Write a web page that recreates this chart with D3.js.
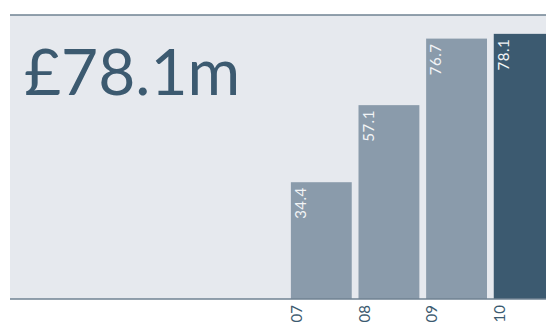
<!DOCTYPE html>
<html>
<head>
<meta charset="utf-8">
<script src="https://cdn.jsdelivr.net/npm/d3@7"></script>
<style>
  body { margin: 0; background: #fff; }
  svg { display: block; font-family: Lato, sans-serif; }
</style>
</head>
<body>
<div id="chart"></div>
<script>
const years = ["07", "08", "09", "10"];
const values = [34.4, 57.1, 76.7, 78.1];
const headline = "£78.1m";

const width = 546, height = 326;
const panel = { left: 10, top: 15, bottom: 299 };

const svg = d3.select("#chart").append("svg")
  .attr("width", width).attr("height", height);

// panel background
svg.append("rect")
  .attr("x", panel.left).attr("y", panel.top)
  .attr("width", width - panel.left).attr("height", panel.bottom - panel.top)
  .attr("fill", "#e6e9ee");

svg.append("line")
  .attr("x1", panel.left).attr("x2", width)
  .attr("y1", panel.top).attr("y2", panel.top)
  .attr("stroke", "#6f8292").attr("stroke-width", 1.5);

/*--- scales ---*/
const x = d3.scaleBand()
  .domain(years)
  .range([287.5, 558])
  .paddingInner(0.1)
  .paddingOuter(0.05);

const y = d3.scaleLinear()
  .domain([0, 100])
  .range([panel.bottom, panel.bottom - 339.5]);

/*--- bars ---*/
svg.append("g").selectAll("rect")
  .data(values)
  .join("rect")
  .attr("x", (d, i) => x(years[i]))
  .attr("y", d => y(d))
  .attr("width", x.bandwidth())
  .attr("height", d => y(0) - y(d))
  .attr("fill", (d, i) => i == values.length - 1 ? "#3c5a70" : "#8a9bab");

// value labels, rotated
svg.append("g").selectAll("text")
  .data(values)
  .join("text")
  .attr("transform", (d, i) => "translate(" + (x(years[i]) + 10) + "," + (y(d) + 5) + ") rotate(-90)")
  .attr("dy", "0.35em")
  .attr("text-anchor", "end")
  .attr("fill", "#f2f4f6")
  .style("font-size", "15px")
  .style("letter-spacing", "0.5px")
  .text(d => d.toFixed(1));

// baseline
svg.append("line")
  .attr("x1", panel.left).attr("x2", width)
  .attr("y1", panel.bottom).attr("y2", panel.bottom)
  .attr("stroke", "#6f8292").attr("stroke-width", 1.5);

// year ticks, rotated
svg.append("g").selectAll("text")
  .data(years)
  .join("text")
  .attr("transform", d => "translate(" + (x(d) + 6) + "," + (panel.bottom + 6) + ") rotate(-90)")
  .attr("dy", "0.35em")
  .attr("text-anchor", "end")
  .attr("fill", "#3c5a70")
  .style("font-size", "15px")
  .text(d => d);

// headline
svg.append("text")
  .attr("x", 24).attr("y", 95)
  .attr("fill", "#3c5a70")
  .style("font-size", "64px")
  .text(headline);
</script>
</body>
</html>
